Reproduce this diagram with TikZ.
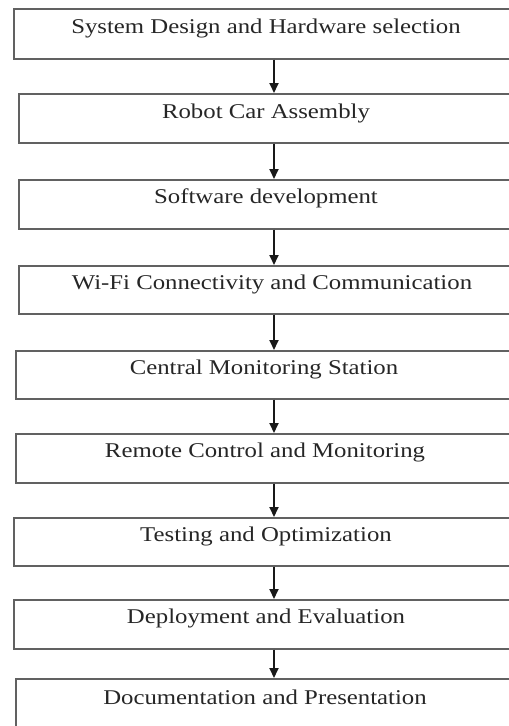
\documentclass[tikz,border=0pt]{standalone}
\usepackage{fontspec}
\setmainfont{Liberation Serif}
\usetikzlibrary{arrows.meta}
\begin{document}
\begin{tikzpicture}[x=1pt,y=-1pt,
  stepbox/.style={draw=black!62,line width=1.6pt,inner sep=0pt,anchor=north west},
  steptext/.style={inner sep=0pt,font=\fontsize{21}{24}\selectfont,text=black!85},
  arr/.style={-{Triangle[length=10pt,width=9pt]},line width=1.8pt,black!90}]
\useasboundingbox (0,0) rectangle (509,726);
\clip (0,0) rectangle (509,726);
\coordinate (ax) at (274,0);
% boxes: left, top, bottom
\node[stepbox,minimum width=530-13,minimum height=50] (b1) at (13,8) {};
\node[stepbox,minimum width=530-18,minimum height=49] (b2) at (18,93) {};
\node[stepbox,minimum width=530-18,minimum height=49] (b3) at (18,179) {};
\node[stepbox,minimum width=530-18,minimum height=48] (b4) at (18,265) {};
\node[stepbox,minimum width=530-15,minimum height=48] (b5) at (15,350) {};
\node[stepbox,minimum width=530-15,minimum height=49] (b6) at (15,433) {};
\node[stepbox,minimum width=530-13,minimum height=48] (b7) at (13,517) {};
\node[stepbox,minimum width=530-13,minimum height=49] (b8) at (13,599) {};
\node[stepbox,minimum width=530-15,minimum height=70] (b9) at (15,678) {};
% texts
\newcommand{\wtxt}[1]{\scalebox{1.18}[1]{#1}}
\node[steptext] (t1) at (266,28) {\wtxt{System Design and Hardware selection}};
\node[steptext] (t2) at (266,113) {\wtxt{Robot Car Assembly}};
\node[steptext] (t3) at (266,198) {\wtxt{Software development}};
\node[steptext] (t4) at (272,284) {\wtxt{Wi-Fi Connectivity and Communication}};
\node[steptext] (t5) at (264,369) {\wtxt{Central Monitoring Station}};
\node[steptext] (t6) at (265,452) {\wtxt{Remote Control and Monitoring}};
\node[steptext] (t7) at (266,536) {\wtxt{Testing and Optimization}};
\node[steptext] (t8) at (266,618) {\wtxt{Deployment and Evaluation}};
\node[steptext] (t9) at (265,697) {\wtxt{Documentation and Presentation}};
% arrows
\foreach \a/\b in {b1/b2,b2/b3,b3/b4,b4/b5,b5/b6,b6/b7,b7/b8,b8/b9}
  \draw[arr] (\a.south -| ax) -- (\b.north -| ax);
\end{tikzpicture}
\end{document}
